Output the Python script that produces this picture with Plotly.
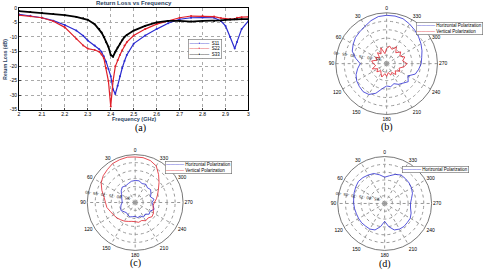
import plotly.graph_objects as go

# ---------------- (a) Return loss data ----------------
freq = [2.0, 2.05, 2.1, 2.15, 2.2, 2.25, 2.28, 2.3, 2.33, 2.35, 2.36, 2.37, 2.38, 2.39, 2.4,
        2.41, 2.42, 2.43, 2.44, 2.45, 2.46, 2.47, 2.5, 2.55, 2.6, 2.65, 2.7, 2.75, 2.8, 2.85,
        2.88, 2.9, 2.92, 2.94, 2.95, 2.97, 3.0]
s11 = [-2.2, -2.7, -3.4, -4.4, -5.9, -7.8, -9.6, -11.2, -12.9, -14.2, -15.1, -16.6, -18.5, -21.0, -23.5,
       -28.0, -29.6, -26.8, -23.5, -20.7, -18.3, -16.2, -12.3, -9.5, -7.3, -5.3, -3.9, -3.4, -3.3, -3.4,
       -4.5, -6.2, -10.0, -14.0, -11.7, -7.3, -4.5]
s22 = [-2.5, -2.9, -3.4, -4.6, -6.7, -10.6, -12.9, -14.0, -14.5, -15.1, -16.0, -17.3, -20.7, -25.2, -33.9,
       -25.2, -20.1, -18.0, -16.2, -14.6, -12.9, -11.8, -9.5, -7.3, -5.6, -4.5, -3.4, -2.8, -2.8, -3.0,
       -3.5, -3.7, -3.9, -3.8, -3.4, -3.2, -3.1]
s33 = [-1.1, -1.4, -1.7, -2.1, -2.5, -3.1, -3.6, -4.1, -5.6, -7.3, -8.5, -10.0, -11.8, -13.4, -16.2,
       -16.8, -15.1, -13.6, -12.3, -11.1, -10.0, -9.3, -7.8, -6.2, -5.0, -4.5, -4.5, -4.7, -4.5, -4.5,
       -4.3, -4.1, -4.0, -3.9, -3.9, -3.9, -3.9]
x_ticks = [2, 2.1, 2.2, 2.3, 2.4, 2.5, 2.6, 2.7, 2.8, 2.9, 3]
y_ticks = [0, -5, -10, -15, -20, -25, -30, -35]

# ---------------- polar data (dB) ----------------
theta = [0, 10, 20, 30, 40, 50, 60, 70, 80, 90, 100, 110, 120, 130, 140, 150, 160, 170,
         180, 190, 200, 210, 220, 230, 240, 250, 260, 270, 280, 290, 300, 310, 320, 330, 340, 350]
b_horiz = [-61.5, -61.8, -63.0, -64.5, -65.4, -66.0, -67.2, -68.4, -71.4, -74.4, -72.6, -70.8,
           -69.6, -69.0, -68.4, -69.0, -71.4, -75.0, -76.8, -76.2, -77.4, -75.9, -75.0, -73.4,
           -75.5, -72.0, -70.8, -69.6, -69.0, -67.8, -66.6, -65.4, -64.2, -63.0, -61.8, -61.5]
b_vert = [-81.0, -84.0, -80.1, -83.4, -81.6, -84.6, -82.5, -84.0, -81.0, -82.2, -83.4, -81.0,
          -84.0, -82.5, -84.6, -83.4, -81.6, -84.0, -82.5, -84.6, -82.8, -84.0, -81.6, -83.4,
          -81.0, -82.2, -79.5, -78.0, -80.4, -78.6, -81.0, -79.2, -81.6, -78.6, -81.0, -79.5]
c_horiz = [-76.2, -76.5, -77.4, -78.0, -77.4, -78.6, -80.1, -81.0, -81.6, -81.9, -81.0, -80.4,
           -79.8, -81.0, -81.6, -81.0, -80.4, -81.0, -81.3, -80.4, -81.0, -79.5, -80.4, -78.6,
           -79.2, -77.4, -78.6, -79.5, -78.0, -79.8, -78.6, -77.4, -78.0, -76.8, -77.4, -76.2]
c_vert = [-61.5, -61.2, -61.5, -61.8, -63.0, -63.9, -65.4, -67.8, -70.2, -71.4, -72.0, -73.5,
          -74.4, -75.0, -75.9, -76.5, -77.4, -78.0, -78.0, -77.4, -78.0, -76.8, -77.4, -76.2,
          -76.8, -78.0, -78.6, -78.0, -76.5, -75.0, -73.2, -70.5, -67.2, -63.6, -62.1, -61.5]
d_horiz = [-73.2, -71.4, -69.6, -69.0, -68.4, -68.1, -68.7, -69.3, -69.9, -70.2, -70.5, -70.8,
           -70.8, -70.8, -71.1, -71.1, -72.0, -75.0, -78.6, -75.0, -72.0, -71.1, -70.8, -71.1,
           -71.1, -72.0, -73.2, -73.5, -72.6, -71.1, -70.2, -69.6, -69.3, -69.0, -70.2, -72.0]
r_ticks = [-85, -80, -75, -70, -65, -60]
ang_ticks = [0, 30, 60, 90, 120, 150, 180, 210, 240, 270, 300, 330]

BLUE = "#2b2bd0"
RED = "#e0202a"
W, H = 493, 272
FONT = "Liberation Sans"


def closed(v):
    return list(v) + [v[0]]


fig = go.Figure()

# (a)
fig.add_trace(go.Scatter(x=freq, y=s11, mode="lines+markers", line=dict(color=BLUE, width=1.2),
                         marker=dict(size=2, color=BLUE), showlegend=False))
fig.add_trace(go.Scatter(x=freq, y=s22, mode="lines+markers", line=dict(color=RED, width=1.2),
                         marker=dict(size=2, color=RED), showlegend=False))
fig.add_trace(go.Scatter(x=freq, y=s33, mode="lines+markers", line=dict(color="black", width=1.8),
                         marker=dict(size=2, color="black"), showlegend=False))

# polar traces
fig.add_trace(go.Scatterpolar(r=closed(b_horiz), theta=closed(theta), mode="lines",
                              line=dict(color=BLUE, width=0.8), subplot="polar", showlegend=False))
fig.add_trace(go.Scatterpolar(r=closed(b_vert), theta=closed(theta), mode="lines",
                              line=dict(color=RED, width=0.8), subplot="polar", showlegend=False))
fig.add_trace(go.Scatterpolar(r=closed(c_horiz), theta=closed(theta), mode="lines",
                              line=dict(color=BLUE, width=0.8), subplot="polar2", showlegend=False))
fig.add_trace(go.Scatterpolar(r=closed(c_vert), theta=closed(theta), mode="lines",
                              line=dict(color=RED, width=0.8), subplot="polar2", showlegend=False))
fig.add_trace(go.Scatterpolar(r=closed(d_horiz), theta=closed(theta), mode="lines",
                              line=dict(color=BLUE, width=0.8), subplot="polar3", showlegend=False))


def px_dom_x(a, b):
    return [a / W, b / W]


def px_dom_y(top, bottom):
    return [1 - bottom / H, 1 - top / H]


def polar_layout(cx, cy, rad):
    return dict(
        domain=dict(x=px_dom_x(cx - rad, cx + rad), y=px_dom_y(cy - rad, cy + rad)),
        bgcolor="white",
        angularaxis=dict(rotation=90, direction="counterclockwise", tickmode="array",
                         tickvals=ang_ticks, ticktext=[str(a) for a in ang_ticks],
                         showline=True, linecolor="#555555", linewidth=0.8,
                         gridcolor="#999999", griddash="dot", gridwidth=0.6,
                         ticks="", tickfont=dict(size=5, family=FONT, color="black")),
        radialaxis=dict(range=[-90, -60], tickmode="array", tickvals=r_ticks,
                        ticktext=[str(t) for t in r_ticks], angle=172, tickangle=0,
                        showline=False, ticks="", gridcolor="#999999", griddash="dot",
                        gridwidth=0.6, tickfont=dict(size=4.2, family=FONT, color="#222222")),
    )


fig.update_layout(
    width=W, height=H,
    margin=dict(l=0, r=0, t=0, b=0),
    paper_bgcolor="white", plot_bgcolor="white",
    xaxis=dict(domain=px_dom_x(18, 249), range=[2, 3], tickmode="array", tickvals=x_ticks,
               ticktext=[str(t) for t in x_ticks], showline=True, linecolor="black", linewidth=0.8,
               mirror=True, gridcolor="#aaaaaa", griddash="dot", gridwidth=0.6, zeroline=False,
               ticks="inside", ticklen=2, tickfont=dict(size=5, family=FONT, color="black")),
    yaxis=dict(domain=px_dom_y(5, 109), range=[-35, 0], tickmode="array", tickvals=y_ticks,
               ticktext=[str(t) for t in y_ticks], showline=True, linecolor="black", linewidth=0.8,
               mirror=True, gridcolor="#aaaaaa", griddash="dot", gridwidth=0.6, zeroline=False,
               ticks="inside", ticklen=2, tickfont=dict(size=5, family=FONT, color="black")),
    polar=polar_layout(388, 62, 52),
    polar2=polar_layout(135, 204, 49),
    polar3=polar_layout(386, 205, 48),
    showlegend=False,
)

ann = []
# (a) texts
ann.append(dict(x=133.5 / W, y=1.0, xref="paper", yref="paper", text="<b>Return Loss vs Frequency</b>",
                showarrow=False, xanchor="center", yanchor="middle", font=dict(size=6, family=FONT)))
ann.append(dict(x=133.5 / W, y=1 - 118.5 / H, xref="paper", yref="paper", text="<b>Frequency (GHz)</b>",
                showarrow=False, xanchor="center", yanchor="middle", font=dict(size=5.5, family=FONT)))
ann.append(dict(x=4 / W, y=1 - 57 / H, xref="paper", yref="paper", text="<b>Return Loss (dB)</b>",
                showarrow=False, textangle=-90, xanchor="center", yanchor="middle",
                font=dict(size=5, family=FONT)))

# legends as text boxes
leg_a = (f"<span style='color:{BLUE}'>——•——</span>  S11<br>"
         f"<span style='color:{RED}'>——•——</span>  S22<br>"
         f"<span style='color:black'>——•——</span>  S33")
ann.append(dict(x=188 / W, y=1 - 37 / H, xref="paper", yref="paper", text=leg_a, align="left",
                showarrow=False, xanchor="left", yanchor="top", bgcolor="white",
                bordercolor="#666666", borderwidth=0.6, borderpad=1,
                font=dict(size=4.5, family=FONT, color="black")))


def pol_leg(entries):
    return "<br>".join(f"<span style='color:{c}'>————</span> {t}" for c, t in entries)


ann.append(dict(x=418 / W, y=1 - 19 / H, xref="paper", yref="paper",
                text=pol_leg([(BLUE, "Horizontal Polarization"), (RED, "Vertical Polarization")]),
                align="left", showarrow=False, xanchor="left", yanchor="top", bgcolor="white",
                bordercolor="#666666", borderwidth=0.6, borderpad=0.5,
                font=dict(size=4.5, family=FONT, color="black")))
ann.append(dict(x=165 / W, y=1 - 162 / H, xref="paper", yref="paper",
                text=pol_leg([(BLUE, "Horizontal Polarization"), (RED, "Vertical Polarization")]),
                align="left", showarrow=False, xanchor="left", yanchor="top", bgcolor="white",
                bordercolor="#666666", borderwidth=0.6, borderpad=0.5,
                font=dict(size=4.5, family=FONT, color="black")))
ann.append(dict(x=403 / W, y=1 - 167 / H, xref="paper", yref="paper",
                text=pol_leg([(BLUE, "Horizontal Polarization")]),
                align="left", showarrow=False, xanchor="left", yanchor="top", bgcolor="white",
                bordercolor="#666666", borderwidth=0.6, borderpad=0.5,
                font=dict(size=4.5, family=FONT, color="black")))

# captions
for lab, cx, cy in [("(a)", 140, 128), ("(b)", 388, 127), ("(c)", 135, 266), ("(d)", 386, 267)]:
    ann.append(dict(x=cx / W, y=1 - cy / H, xref="paper", yref="paper", text=lab, showarrow=False,
                    xanchor="center", yanchor="middle",
                    font=dict(size=10, family="Liberation Serif", color="black")))

fig.update_layout(annotations=ann)
fig.write_html("out.html")
